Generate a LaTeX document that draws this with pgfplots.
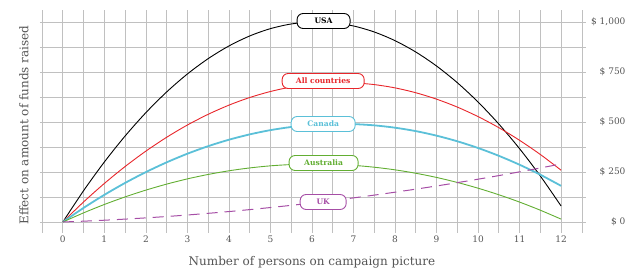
\documentclass[border=0pt]{standalone}
\usepackage{pgfplots}
\pgfplotsset{compat=1.18}
\usetikzlibrary{calc}
\usepackage{fontspec}
\setmainfont{DejaVu Serif}
\definecolor{txt}{HTML}{555555}
\definecolor{gridc}{HTML}{C0C0C0}
\definecolor{cred}{HTML}{E8262B}
\definecolor{cblue}{HTML}{5BC0D8}
\definecolor{cgreen}{HTML}{62AE32}
\definecolor{cpurple}{HTML}{A64EA6}
\tikzset{lbl/.style={draw=#1, text=#1, fill=white, rounded corners=6pt, line width=0.9pt,
  font=\bfseries\fontsize{7.6}{7.6}\selectfont, inner sep=0pt, minimum height=15pt, anchor=center}}
\begin{document}
\begin{tikzpicture}
\begin{axis}[
  scale only axis, width=546pt, height=223pt,
  xmin=-0.55, xmax=12.6, ymin=-55, ymax=1060,
  axis line style={draw=none},
  tick style={draw=none},
  xtick={0,...,12}, minor xtick={-0.5,0.5,...,12.5},
  ytick={0,250,500,750,1000}, minor ytick={125,375,625,875},
  yticklabels={\$ 0,\$ 250,\$ 500,\$ 750,{\$ 1,000}},
  grid=both,
  major grid style={gridc, line width=0.7pt},
  minor grid style={gridc, line width=0.7pt},
  major tick length=0pt, minor tick length=0pt,
  /pgf/number format/assume math mode=true,
  ticklabel style={font=\fontsize{9}{9}\selectfont, text=txt},
  xticklabel style={anchor=center, yshift=-6pt},
  yticklabel pos=right,
  yticklabel style={anchor=east, xshift=43pt},
  clip=false,
]
\addplot[black, line width=0.9pt, smooth] coordinates {
(0,0)(0.5,156.7)(1,300.0)(1.5,430.0)(2,546.7)(2.5,650.1)(3,740.1)(3.5,816.7)(4,880.1)(4.5,930.1)(5,966.8)(5.5,990.1)(6,1000.1)(6.5,996.8)(7,980.1)(7.5,950.1)(8,906.7)(8.5,850.0)(9,780.0)(9.5,696.7)(10,600)(10.5,490.0)(11,366.6)(11.5,230.0)(12,79.9)};
\addplot[cred, line width=0.9pt, smooth] coordinates {
(0,0)(0.5,100.3)(1,192.7)(1.5,277.4)(2,354.4)(2.5,423.5)(3,484.9)(3.5,538.4)(4,584.2)(4.5,622.3)(5,652.5)(5.5,675.0)(6,689.6)(6.5,696.5)(7,695.7)(7.5,687.0)(8,670.6)(8.5,646.3)(9,614.3)(9.5,574.6)(10,527)(10.5,471.7)(11,408.5)(11.5,337.6)(12,259.0)};
\addplot[cblue, line width=1.8pt, smooth] coordinates {
(0,0)(0.5,70.6)(1,135.7)(1.5,195.4)(2,249.5)(2.5,298.2)(3,341.4)(3.5,379.1)(4,411.3)(4.5,438.0)(5,459.3)(5.5,475.0)(6,485.3)(6.5,490.1)(7,489.4)(7.5,483.2)(8,471.5)(8.5,454.4)(9,431.7)(9.5,403.6)(10,370)(10.5,330.9)(11,286.3)(11.5,236.3)(12,180.7)};
\addplot[cgreen, line width=0.9pt, smooth] coordinates {
(0,0)(0.5,45.7)(1,87.6)(1.5,125.4)(2,159.4)(2.5,189.4)(3,215.6)(3.5,237.7)(4,256.0)(4.5,270.3)(5,280.8)(5.5,287.2)(6,289.8)(6.5,288.4)(7,283.2)(7.5,273.9)(8,260.8)(8.5,243.7)(9,222.8)(9.5,197.8)(10,169)(10.5,136.2)(11,99.6)(11.5,58.9)(12,14.4)};
\addplot[cpurple, line width=1pt, dash pattern=on 11pt off 7pt, smooth] coordinates {
(0,0)(0.5,4.1)(1,8.9)(1.5,14.4)(2,20.6)(2.5,27.4)(3,35.0)(3.5,43.3)(4,52.2)(4.5,61.9)(5,72.3)(5.5,83.3)(6,95.0)(6.5,107.5)(7,120.6)(7.5,134.4)(8,149.0)(8.5,164.2)(9,180.1)(9.5,196.7)(10,214)(10.5,232.0)(11,250.7)(11.5,270.1)(12,290.2)};
\node[lbl=black, minimum width=53pt] at (axis cs:6.28,1005) {USA};
\node[lbl=cred, minimum width=82pt] at (axis cs:6.27,705) {All countries};
\node[lbl=cblue, minimum width=64pt] at (axis cs:6.27,490) {Canada};
\node[lbl=cgreen, minimum width=69pt] at (axis cs:6.28,295) {Australia};
\node[lbl=cpurple, minimum width=46pt] at (axis cs:6.27,100) {UK};
\coordinate (sw) at (rel axis cs:0,0);
\coordinate (ne) at (rel axis cs:1,1);
\end{axis}
\path (sw) ++(-40pt,-39pt) coordinate (bsw);
\path (ne) ++(44pt,10pt) coordinate (bne);
\useasboundingbox (bsw) rectangle (bne);
\node[text=txt, font=\fontsize{12}{12}\selectfont] at ($(bsw)!0.5!(bne|-bsw)+(-3pt,10pt)$) {Number of persons on campaign picture};
\node[text=txt, font=\fontsize{12}{12}\selectfont, rotate=90] at ($(bsw|-sw)!0.5!(bsw|-ne)+(24pt,-3.5pt)$) {Effect on amount of funds raised};
\end{tikzpicture}
\end{document}
